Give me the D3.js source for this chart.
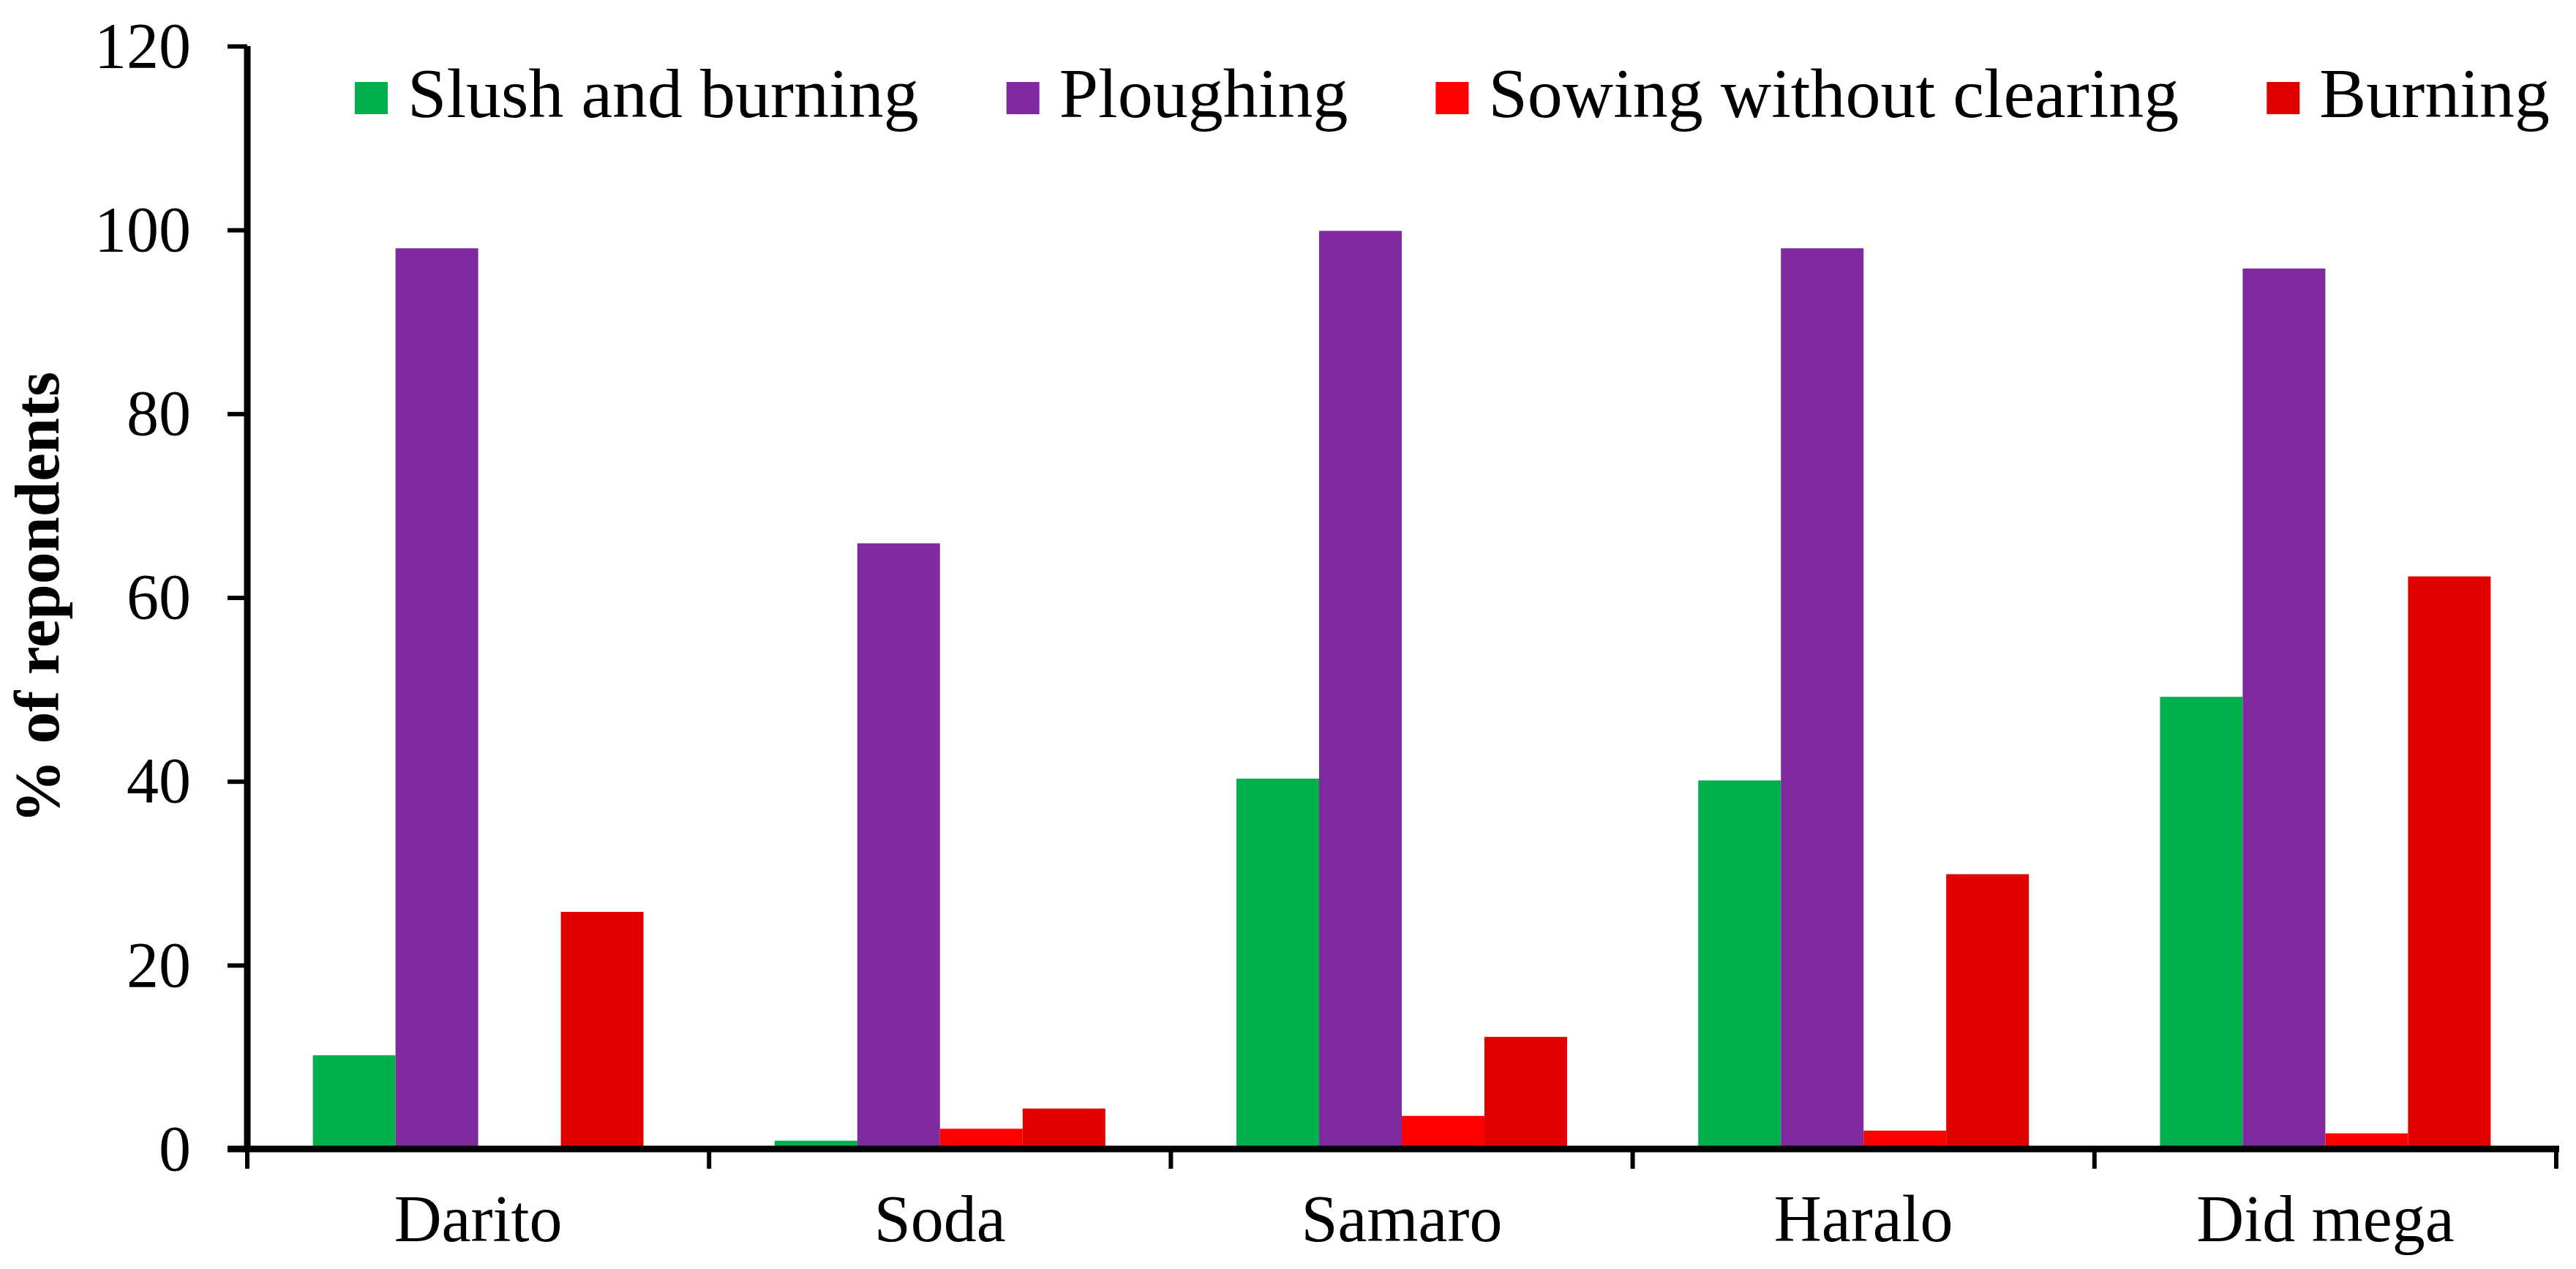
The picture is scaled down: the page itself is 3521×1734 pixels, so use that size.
<!DOCTYPE html>
<html>
<head>
<meta charset="utf-8">
<script src="https://cdn.jsdelivr.net/npm/d3@7"></script>
<style>
  body { margin: 0; background: #fff; }
  text { font-family: 'Liberation Serif', 'Times New Roman', serif; fill: #000; }
</style>
</head>
<body>
<div id="chart"></div>
<script>
const villages = ['Darito', 'Soda', 'Samaro', 'Haralo', 'Did mega']
const practices = ['Slush and burning', 'Ploughing', 'Sowing without clearing', 'Burning']
const practiceColors = ['#00b04c', '#7f2b9f', '#ff0000', '#e00000']

// % of respondents per village, one array per practice
const slushAndBurning = [10.2, 0.9, 40.3, 40.1, 49.2]
const ploughing = [98, 65.9, 99.9, 98, 95.8]
const sowingWithoutClearing = [0, 2.2, 3.6, 2.0, 1.7]
const burning = [25.8, 4.4, 12.2, 29.9, 62.3]

const yTicks = [0, 20, 40, 60, 80, 100, 120]

function renderGroupedBars({ nodeId, width = 3521, height = 1734 }) {
  const margin = { top: 63, right: 27, bottom: 164, left: 338 }
  const series = [slushAndBurning, ploughing, sowingWithoutClearing, burning]

  const svg = d3.select(`#${nodeId}`)
    .append('svg')
      .attr('width', width)
      .attr('height', height)

  const x0 = d3.scaleBand()
    .domain(villages)
    .range([margin.left, width - margin.right])
    .padding(0)

  const x1 = d3.scaleBand()
    .domain(practices)
    .range([x0.bandwidth() * 0.142, x0.bandwidth() * 0.858])
    .padding(0)

  const y = d3.scaleLinear()
    .domain([0, 120])
    .range([height - margin.bottom, margin.top])

  // bars
  const groups = svg.selectAll('g.village')
    .data(villages)
    .enter()
    .append('g')
      .attr('class', 'village')
      .attr('transform', d => `translate(${x0(d)}, 0)`)

  groups.selectAll('rect')
    .data((d, i) => practices.map((p, j) => ({ practice: p, value: series[j][i], color: practiceColors[j] })))
    .enter()
    .append('rect')
      .attr('x', d => x1(d.practice))
      .attr('y', d => y(d.value))
      .attr('width', x1.bandwidth())
      .attr('height', d => y(0) - y(d.value))
      .attr('fill', d => d.color)

  // y axis
  const yAxis = svg.append('g')
    .attr('transform', `translate(${margin.left}, 0)`)
    .call(d3.axisLeft(y).tickValues(yTicks).tickSize(27).tickPadding(50))

  yAxis.select('.domain')
    .attr('d', `M0,${y(120)}V${y(0) + 4}`)
    .attr('stroke', '#000')
    .attr('stroke-width', 9)
  yAxis.selectAll('.tick line')
    .attr('stroke', '#000')
    .attr('stroke-width', 6)
  yAxis.selectAll('.tick text')
    .attr('font-size', 88)
    .attr('font-family', "'Liberation Serif', 'Times New Roman', serif")
    .attr('fill', '#000')

  // x axis, ticks on category boundaries
  const xEdges = villages.map(v => x0(v)).concat([x0.range()[1]])
  const xAxis = svg.append('g')
    .attr('transform', `translate(0, ${y(0)})`)

  xAxis.append('path')
    .attr('d', `M${margin.left - 27},0H${x0.range()[1] + 4}`)
    .attr('stroke', '#000')
    .attr('stroke-width', 9)
    .attr('fill', 'none')

  xAxis.selectAll('line.edge')
    .data(xEdges)
    .enter()
    .append('line')
      .attr('class', 'edge')
      .attr('x1', d => d)
      .attr('x2', d => d)
      .attr('y1', 0)
      .attr('y2', 27)
      .attr('stroke', '#000')
      .attr('stroke-width', 6)

  xAxis.selectAll('text.cat')
    .data(villages)
    .enter()
    .append('text')
      .attr('class', 'cat')
      .attr('x', d => x0(d) + x0.bandwidth() / 2)
      .attr('y', 126)
      .attr('text-anchor', 'middle')
      .attr('font-size', 90)
      .text(d => d)

  // y title
  svg.append('text')
    .attr('transform', `translate(80, ${(y(0) + y(120)) / 2}) rotate(-90)`)
    .attr('text-anchor', 'middle')
    .attr('font-size', 87)
    .attr('font-weight', 'bold')
    .text('% of repondents')

  // legend
  const legend = svg.append('g')
    .attr('transform', 'translate(485, 112)')

  let offset = 0
  practices.forEach((p, i) => {
    const item = legend.append('g')
      .attr('transform', `translate(${offset}, 0)`)
    item.append('rect')
      .attr('width', 45)
      .attr('height', 44)
      .attr('fill', practiceColors[i])
    const label = item.append('text')
      .attr('x', 72)
      .attr('y', 48)
      .attr('font-size', 96)
      .text(p)
    offset += 72 + label.node().getComputedTextLength() + 120
  })
}

renderGroupedBars({ nodeId: 'chart' })
</script>
</body>
</html>
